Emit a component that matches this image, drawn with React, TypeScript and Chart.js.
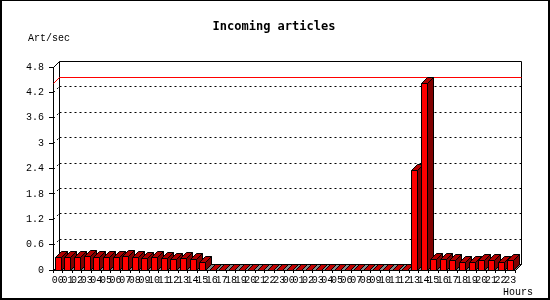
import React, { useEffect, useRef } from "react";
import { Chart, registerables } from "chart.js";
Chart.register(...registerables);

const hours = [
  "00","01","02","03","04","05","06","07","08","09","10","11",
  "12","13","14","15","16","17","18","19","20","21","22","23",
  "00","01","02","03","04","05","06","07","08","09","10","11",
  "12","13","14","15","16","17","18","19","20","21","22","23",
];
const day1Values = [0.30,0.30,0.30,0.32,0.30,0.30,0.30,0.32,0.30,0.28,0.30,0.28,0.25,0.28,0.25,0.18,0,0,0,0,0,0,0,0];
const day2Values = [0,0,0,0,0,0,0,0,0,0,0,0,0,2.36,4.43,0.25,0.25,0.23,0.18,0.18,0.23,0.23,0.20,0.23];
const yTicks = [0, 0.6, 1.2, 1.8, 2.4, 3, 3.6, 4.2, 4.8];
const maxLineValue = 4.43;
const chartTitle = "Incoming articles";
const yUnit = "Art/sec";
const xUnit = "Hours";

const D = 6;
const MONO = "'Liberation Mono', 'DejaVu Sans Mono', monospace";

const threeD = {
  id: "threeD",
  beforeDraw(chart: any) {
    const ctx = chart.ctx;
    ctx.save();
    ctx.fillStyle = "#fff";
    ctx.fillRect(0, 0, chart.width, chart.height);
    ctx.restore();
  },
  beforeDatasetsDraw(chart: any) {
    const { ctx, chartArea, scales } = chart;
    const { left, right, top, bottom } = chartArea;
    const y = scales.y;
    const L = Math.round(left) + 0.5;
    const R = Math.round(right) + 0.5;
    const T = Math.round(top) + 0.5;
    const B = Math.round(bottom) + 0.5;
    ctx.save();
    ctx.lineWidth = 1;
    // back wall
    ctx.fillStyle = "#fff";
    ctx.strokeStyle = "#000";
    ctx.beginPath();
    ctx.rect(L + D, T - D, R - L, B - T);
    ctx.fill();
    ctx.stroke();
    // top-left diagonal
    ctx.beginPath();
    ctx.moveTo(L, T);
    ctx.lineTo(L + D, T - D);
    ctx.stroke();
    // dotted grid
    ctx.setLineDash([2, 3]);
    for (const v of yTicks) {
      if (v === yTicks[0] || v === yTicks[yTicks.length - 1]) continue;
      const py = Math.round(y.getPixelForValue(v)) + 0.5;
      ctx.beginPath();
      ctx.moveTo(L, py);
      ctx.lineTo(L + D, py - D);
      ctx.moveTo(L + D, py - D);
      ctx.lineTo(R + D, py - D);
      ctx.stroke();
    }
    ctx.setLineDash([]);
    // max line
    const my = Math.round(y.getPixelForValue(maxLineValue)) + 0.5;
    ctx.strokeStyle = "#ff0000";
    ctx.beginPath();
    ctx.moveTo(L, my);
    ctx.lineTo(L + D, my - D);
    ctx.lineTo(R + D, my - D);
    ctx.stroke();
    // floor
    ctx.strokeStyle = "#000";
    ctx.fillStyle = "#888888";
    ctx.beginPath();
    ctx.moveTo(L, B);
    ctx.lineTo(R, B);
    ctx.lineTo(R + D, B - D);
    ctx.lineTo(L + D, B - D);
    ctx.closePath();
    ctx.fill();
    ctx.stroke();
    ctx.restore();
  },
  afterDatasetsDraw(chart: any) {
    const { ctx, chartArea, scales } = chart;
    const y = scales.y;
    const B = Math.round(chartArea.bottom) + 0.5;
    ctx.save();
    ctx.lineWidth = 1;
    ctx.strokeStyle = "#000";
    chart.data.datasets.forEach((ds: any, di: number) => {
      const meta = chart.getDatasetMeta(di);
      meta.data.forEach((el: any, i: number) => {
        const v = ds.data[i];
        const xl = Math.round(el.x - 3) + 0.5;
        const xr = xl + 6;
        const yt = Math.round(y.getPixelForValue(v)) + 0.5;
        const poly = (pts: number[][], fill: string) => {
          ctx.beginPath();
          ctx.moveTo(pts[0][0], pts[0][1]);
          for (let k = 1; k < pts.length; k++) ctx.lineTo(pts[k][0], pts[k][1]);
          ctx.closePath();
          ctx.fillStyle = fill;
          ctx.fill();
          ctx.stroke();
        };
        if (v > 0) {
          poly([[xr, yt], [xr + D, yt - D], [xr + D, B - D], [xr, B]], "#800000");
          poly([[xl, yt], [xr, yt], [xr + D, yt - D], [xl + D, yt - D]], "#b00000");
          poly([[xl, yt], [xr, yt], [xr, B], [xl, B]], "#ff0000");
        } else {
          poly([[xl, B], [xr, B], [xr + D, B - D], [xl + D, B - D]], "#c00000");
        }
      });
    });
    ctx.restore();
  },
  afterDraw(chart: any) {
    const ctx = chart.ctx;
    ctx.save();
    ctx.fillStyle = "#000";
    ctx.textBaseline = "middle";
    ctx.font = "bold 12px 'DejaVu Sans Mono', monospace";
    ctx.textAlign = "center";
    ctx.fillText(chartTitle, 274, 27);
    ctx.font = "10px " + MONO;
    ctx.textAlign = "left";
    ctx.fillText(yUnit, 28, 38);
    ctx.fillText(xUnit, 503, 292);
    // frame
    ctx.fillRect(0, 0, 550, 1);
    ctx.fillRect(0, 0, 2, 300);
    ctx.fillRect(548, 0, 2, 300);
    ctx.fillRect(0, 298, 550, 2);
    ctx.restore();
  },
};

export default function App() {
  const ref = useRef<HTMLCanvasElement | null>(null);
  useEffect(() => {
    document.body.style.margin = "0";
    const canvas = ref.current!;
    const values = [...day1Values, ...day2Values];
    const chart = new Chart(canvas, {
      type: "bar",
      data: {
        labels: hours,
        datasets: [
          {
            data: values,
            backgroundColor: "rgba(0,0,0,0)",
            borderWidth: 0,
          },
        ],
      },
      options: {
        responsive: false,
        animation: false,
        events: [],
        layout: { padding: { top: 67, right: 35, left: 0, bottom: 0 } },
        plugins: { legend: { display: false }, tooltip: { enabled: false }, title: { display: false } },
        scales: {
          x: {
            type: "category",
            offset: true,
            afterFit: (s: any) => { s.height = 30; },
            grid: { drawOnChartArea: false, tickLength: 3, color: "#000", offset: true },
            border: { color: "#000" },
            ticks: {
              autoSkip: false,
              maxRotation: 0,
              minRotation: 0,
              padding: 1,
              color: "#000",
              font: { family: MONO, size: 10 },
            },
          },
          y: {
            type: "linear",
            min: yTicks[0],
            max: yTicks[yTicks.length - 1],
            afterFit: (s: any) => { s.width = 53; },
            afterBuildTicks: (s: any) => { s.ticks = yTicks.map((v) => ({ value: v })); },
            grid: { drawOnChartArea: false, tickLength: 4, color: "#000" },
            border: { color: "#000" },
            ticks: {
              padding: 5,
              color: "#000",
              font: { family: MONO, size: 10 },
              callback: (v: any) => String(Math.round(Number(v) * 10) / 10),
            },
          },
        },
      },
      plugins: [threeD],
    });
    return () => chart.destroy();
  }, []);
  return <canvas ref={ref} width={550} height={300} style={{ display: "block", width: 550, height: 300 }} />;
}
